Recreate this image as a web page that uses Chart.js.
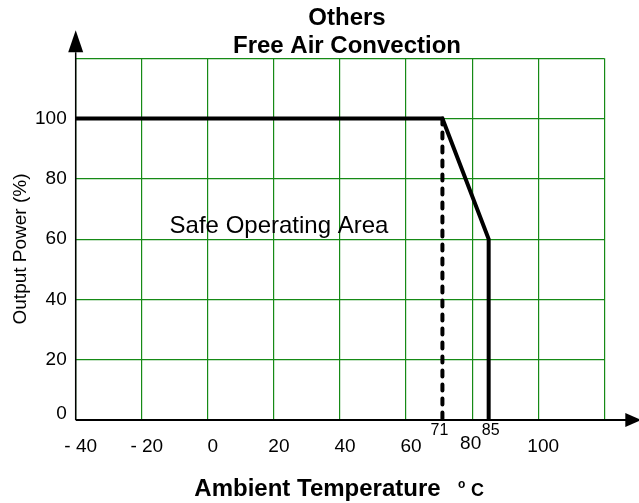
<!DOCTYPE html>
<html>
<head>
<meta charset="utf-8">
<script src="https://cdn.jsdelivr.net/npm/chart.js@4.4.1/dist/chart.umd.min.js"></script>
<style>
  html, body { margin: 0; padding: 0; background: #fff; }
  canvas { display: block; }
</style>
</head>
<body>
<canvas id="derating" width="639" height="503"></canvas>
<script>
// derating curve (ambient temp -> output power %)
const curveTemp = [-40, 71, 85, 85];
const curvePower = [100, 100, 60, 0];

// dashed marker at 71
const markTemp = [71, 71];
const markPower = [100, 0];

// axis labels
const xTickValues = [-40, -20, 0, 20, 40, 60, 80, 100];
const xTickLabels = ['- 40', '- 20', '0', '20', '40', '60', '80', '100'];
const yTickValues = [0, 20, 40, 60, 80, 100];
const yTickLabels = ['0', '20', '40', '60', '80', '100'];
const markValues = [71, 85];
const markLabels = ['71', '85'];

const FONT = "'Liberation Sans', Arial, Helvetica, sans-serif";
const GREEN = '#168a16';

function toPoints( xs, ys ) {
	return xs.map( function ( x, i ) {
		return {x: x, y: ys[i]};
	} );
}

// draws axes, arrows and all the texts
const deratingDecor = {
	id: 'deratingDecor',
	beforeDatasetsDraw: function ( chart ) {
		const ctx = chart.ctx;
		const area = chart.chartArea;

		ctx.save();
		ctx.fillStyle = '#000';
		ctx.strokeStyle = '#000';

		// y axis + arrow
		ctx.lineWidth = 1.5;
		ctx.beginPath();
		ctx.moveTo( area.left, area.bottom );
		ctx.lineTo( area.left, area.top - 6 );
		ctx.stroke();

		ctx.beginPath();
		ctx.moveTo( area.left, area.top - 28 );
		ctx.lineTo( area.left + 7.5, area.top - 6 );
		ctx.lineTo( area.left - 7.5, area.top - 6 );
		ctx.closePath();
		ctx.fill();

		// x axis + arrow
		ctx.lineWidth = 2;
		ctx.beginPath();
		ctx.moveTo( area.left, area.bottom );
		ctx.lineTo( area.right + 22, area.bottom );
		ctx.stroke();

		ctx.beginPath();
		ctx.moveTo( area.right + 37, area.bottom );
		ctx.lineTo( area.right + 21, area.bottom - 7 );
		ctx.lineTo( area.right + 21, area.bottom + 7 );
		ctx.closePath();
		ctx.fill();

		ctx.restore();
	},
	afterDraw: function ( chart ) {
		const ctx = chart.ctx;
		const area = chart.chartArea;
		const x = chart.scales.x;
		const y = chart.scales.y;

		ctx.save();
		ctx.fillStyle = '#000';

		// y tick labels
		ctx.font = '19px ' + FONT;
		ctx.textAlign = 'right';
		ctx.textBaseline = 'middle';
		yTickValues.forEach( function ( v, i ) {
			const lift = v === 0 ? 6 : 0;
			ctx.fillText( yTickLabels[i], area.left - 9, y.getPixelForValue( v ) - lift );
		} );

		// x tick labels
		ctx.textAlign = 'center';
		xTickValues.forEach( function ( v, i ) {
			// 80 sits higher and tighter, next to the 85 marker
			const dx = v === 80 ? -1.5 : 5;
			const dy = v === 80 ? -3 : 0;
			ctx.fillText( xTickLabels[i], x.getPixelForValue( v ) + dx, area.bottom + 27 + dy );
		} );

		// marker labels
		ctx.font = '16px ' + FONT;
		markValues.forEach( function ( v, i ) {
			const dx = v === 71 ? -3 : 2;
			ctx.fillText( markLabels[i], x.getPixelForValue( v ) + dx, area.bottom + 11 );
		} );

		// area label
		ctx.font = '24px ' + FONT;
		ctx.textBaseline = 'alphabetic';
		ctx.fillText( 'Safe Operating Area', 279, 233 );

		// title
		ctx.font = 'bold 24px ' + FONT;
		ctx.fillText( 'Others', 347, 25 );
		ctx.fillText( 'Free Air Convection', 347, 53 );

		// x axis title
		ctx.fillText( 'Ambient Temperature', 317.5, 496 );
		ctx.font = 'bold 18px ' + FONT;
		ctx.textAlign = 'left';
		ctx.fillText( 'C', 471, 496 );
		ctx.font = 'bold 12px ' + FONT;
		ctx.fillText( 'o', 458, 488 );

		// y axis title
		ctx.font = '19px ' + FONT;
		ctx.translate( 21, 249 );
		ctx.rotate( - Math.PI / 2 );
		ctx.textAlign = 'center';
		ctx.textBaseline = 'middle';
		ctx.fillText( 'Output Power (%)', 0, 0 );

		ctx.restore();
	}
};

const config = {
	type: 'line',
	data: {
		datasets: [
			{
				data: toPoints( curveTemp, curvePower ),
				borderColor: '#000',
				borderWidth: 4,
				borderJoinStyle: 'miter',
				pointRadius: 0,
				tension: 0,
				fill: false
			},
			{
				data: toPoints( markTemp, markPower ),
				borderColor: '#000',
				borderWidth: 4,
				borderDash: [6, 8],
				borderCapStyle: 'round',
				pointRadius: 0,
				tension: 0,
				fill: false
			}
		]
	},
	options: {
		responsive: false,
		animation: false,
		clip: false,
		layout: {
			padding: {left: 75.7, right: 34.7, top: 58.3, bottom: 83}
		},
		plugins: {
			legend: {display: false},
			tooltip: {enabled: false},
			title: {display: false}
		},
		scales: {
			x: {
				type: 'linear',
				min: -40,
				max: 120,
				ticks: {display: false, stepSize: 20},
				grid: {color: GREEN, lineWidth: 1.2, drawTicks: false},
				border: {display: false}
			},
			y: {
				type: 'linear',
				min: 0,
				max: 120,
				ticks: {display: false, stepSize: 20},
				grid: {color: GREEN, lineWidth: 1.2, drawTicks: false},
				border: {display: false}
			}
		}
	},
	plugins: [deratingDecor]
};

new Chart( document.getElementById( 'derating' ).getContext( '2d' ), config );
</script>
</body>
</html>
